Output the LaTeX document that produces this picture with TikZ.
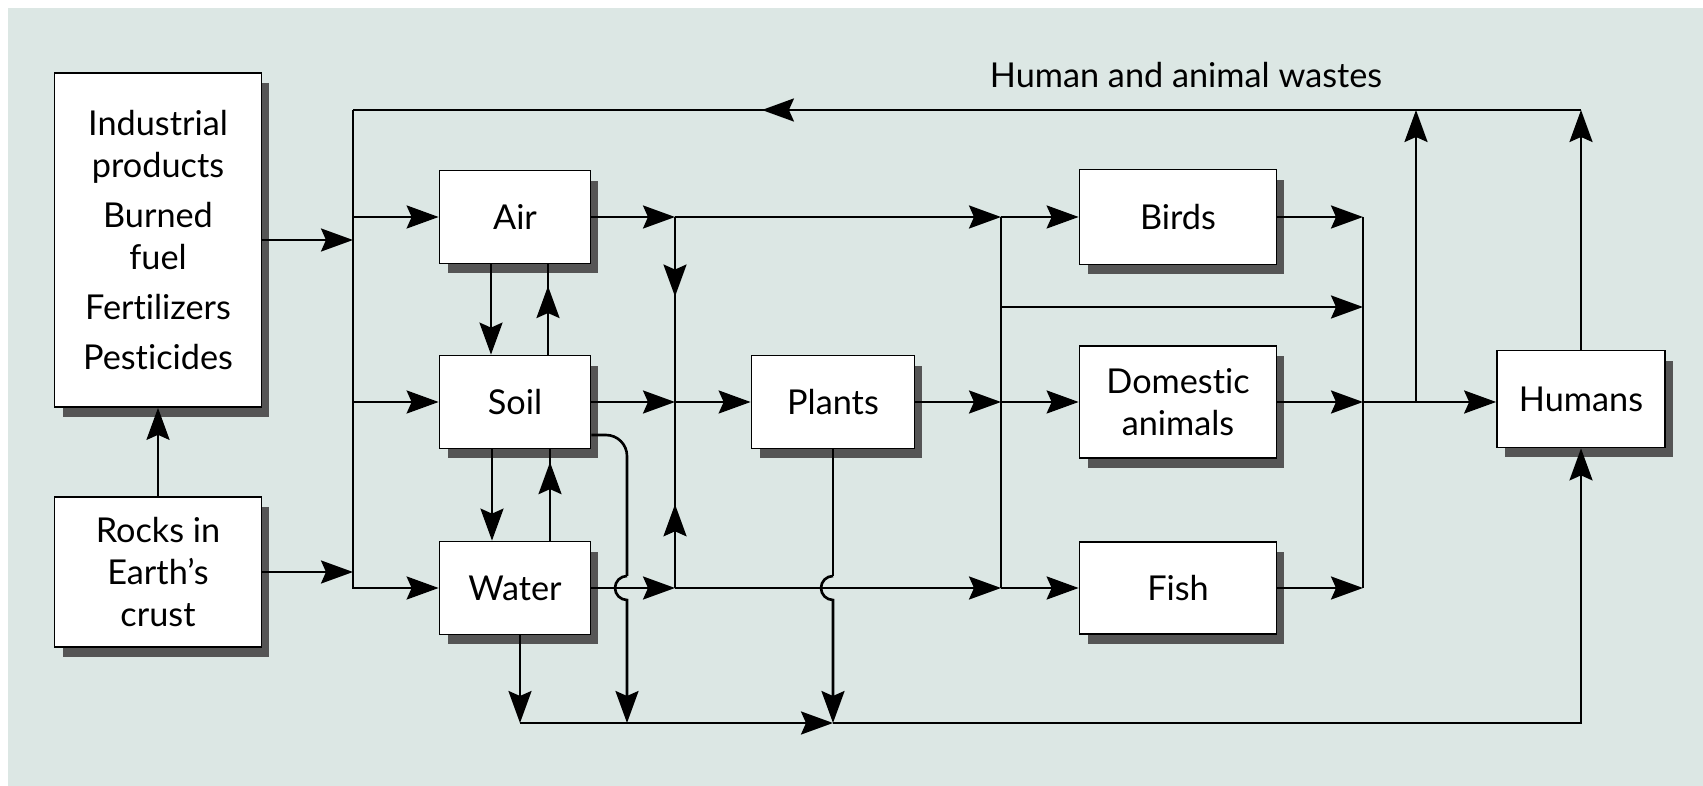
\documentclass[tikz,border=0pt]{standalone}
\usepackage{fontspec}
\setmainfont{Lato}[Ligatures=NoCommon]
\usetikzlibrary{arrows.meta,shadows,decorations.markings}
\definecolor{paper}{RGB}{220,231,228}
\definecolor{shade}{RGB}{85,85,85}

\begin{document}
\begin{tikzpicture}[x=0.02cm,y=-0.02cm,
  font=\fontsize{19.5}{24}\selectfont,
  >={Stealth[length=0.64cm,width=0.46cm,inset=0.1cm]},
  line width=1.5pt,
  box/.style={draw,line width=1pt,fill=white,align=center,inner sep=0pt,
    minimum width=3.02cm,minimum height=1.86cm,
    drop shadow={shadow xshift=0.16cm,shadow yshift=-0.2cm,fill=shade,opacity=1}},
  wide/.style={box,minimum width=3.94cm},
  arr/.style={->},
  mid/.style={decoration={markings,mark=at position #1 with {\arrow{>}}},postaction={decorate}}]

\useasboundingbox (0,0) rectangle (1703,786);
\fill[paper] (8,8) rectangle (1703,786);

% boxes
\node[box,minimum width=4.14cm,minimum height=6.68cm] (ind) at (158,240) {Industrial\\products\\[4.5pt]Burned\\fuel\\[4.5pt]Fertilizers\\[4.5pt]Pesticides};
\node[box,minimum width=4.14cm,minimum height=3cm] (rocks) at (158,572) {Rocks in\\Earth's\\crust};
\node[box] (air) at (515,217) {Air};
\node[box] (soil) at (515,402) {Soil};
\node[box] (water) at (515,588) {Water};
\node[box,minimum width=3.26cm] (plants) at (833,402) {Plants};
\node[wide,minimum height=1.9cm] (birds) at (1178,217) {Birds};
\node[wide,minimum height=2.24cm] (dom) at (1178,402) {Domestic\\animals};
\node[wide,minimum height=1.84cm] (fish) at (1178,588) {Fish};
\node[box,minimum width=3.36cm,minimum height=1.94cm] (humans) at (1581,399) {Humans};
\node[anchor=base] (wastes) at (1186,88) {Human and animal wastes};

% junctions
\coordinate (busT) at (353,110);
\coordinate (topR) at (1581,110);
\coordinate (airJ) at (675,217);
\coordinate (soilJ) at (675,402);
\coordinate (waterJ) at (675,588);
\coordinate (birdJ) at (1001,217);
\coordinate (midJ) at (1001,307);
\coordinate (plantJ) at (1001,402);
\coordinate (fishJ) at (1001,588);
\coordinate (collT) at (1363,217);
\coordinate (collM) at (1363,307);
\coordinate (collH) at (1363,402);
\coordinate (collB) at (1363,588);
\coordinate (upJ) at (1416,402);
\coordinate (soilC) at (627,435);
\coordinate (hopS) at (627,576);
\coordinate (hopP) at (833,576);
\coordinate (soilD) at (627,723);
\coordinate (botL) at (520,723);
\coordinate (plantD) at (833,723);

% sources into the bus
\draw[arr] (ind.east) -- (ind.east -| busT);
\draw[arr] (rocks.east) -- (rocks.east -| busT);
\draw[arr] (rocks.north) -- (ind.south);
\draw[arr] (busT) |- (water.west);
\draw[arr] (air.west -| busT) -- (air.west);
\draw[arr] (soil.west -| busT) -- (soil.west);

% wastes back
\draw[mid=0.667] (topR) -- (busT);
\draw[arr] (humans.north) -- (topR);
\draw[arr] (upJ) -- (upJ |- topR);

% air, soil, water
\draw[arr] ([shift={(-24,0)}]air.south) -- ([shift={(-24,0)}]soil.north);
\draw[mid=0.76] ([shift={(33,0)}]soil.north) -- ([shift={(33,0)}]air.south);
\draw[arr] ([shift={(-23,0)}]soil.south) -- ([shift={(-23,0)}]water.north);
\draw[mid=0.86] ([shift={(35,0)}]water.north) -- ([shift={(35,0)}]soil.south);

% to plants and animals
\draw[arr] (air.east) -- (airJ);
\draw[arr] (airJ) -- (birdJ);
\draw[arr] (birdJ) -- (birds.west);
\draw[mid=0.43] (airJ) -- (soilJ);
\draw[mid=0.45] (waterJ) -- (soilJ);
\draw[arr] (soil.east) -- (soilJ);
\draw[arr] (soilJ) -- (plants.west);
\draw[arr] (water.east) -- (waterJ);
\draw[arr] (waterJ) -- (fishJ);
\draw[arr] (fishJ) -- (fish.west);
\draw (birdJ) -- (fishJ);
\draw[arr] (midJ) -- (collM);
\draw[arr] (plants.east) -- (plantJ);
\draw[arr] (plantJ) -- (dom.west);

% to humans
\draw[arr] (birds.east) -- (collT);
\draw[arr] (dom.east) -- (collH);
\draw[arr] (fish.east) -- (collB);
\draw (collT) -- (collB);
\draw[arr] (collH) -- (collH -| humans.west);

% bottom line
\draw[rounded corners=12] (soil.east |- soilC) -- (soilC) -- (hopS);
\draw[arr] (hopS) arc[start angle=270,end angle=90,radius=12] -- (soilD);
\draw (plants.south) -- (hopP);
\draw[arr] (hopP) arc[start angle=270,end angle=90,radius=12] -- (plantD);
\draw[arr] (water.south -| botL) -- (botL);
\draw[arr] (botL) -- (plantD);
\draw[arr] (plantD) -| (humans.south);
\end{tikzpicture}
\end{document}
